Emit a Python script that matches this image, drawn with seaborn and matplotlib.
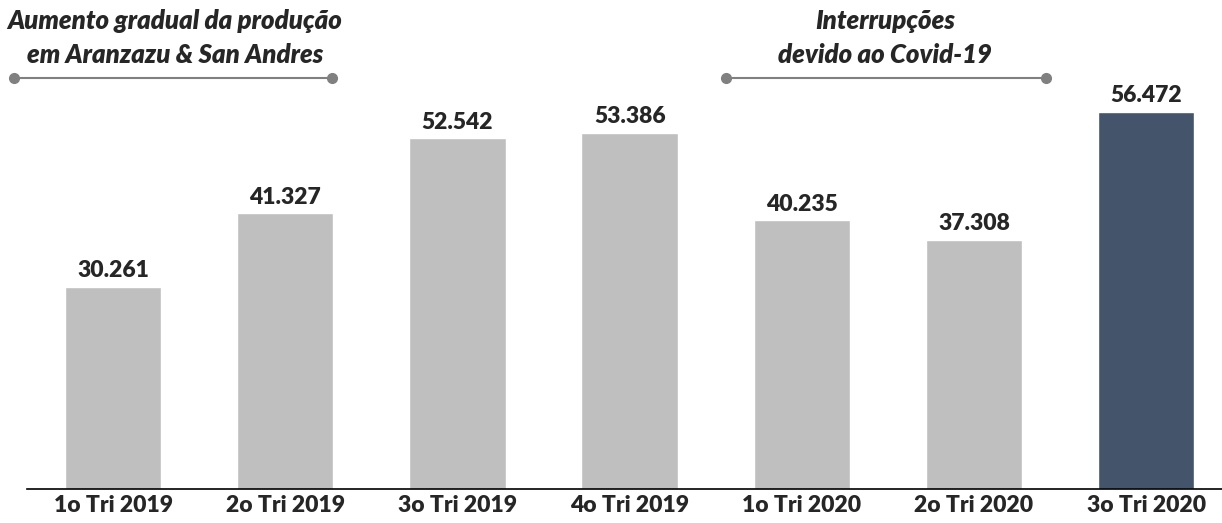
import numpy as np
import pandas as pd
import seaborn as sns
import matplotlib.pyplot as plt

quarters = ["1o Tri 2019", "2o Tri 2019", "3o Tri 2019", "4o Tri 2019",
            "1o Tri 2020", "2o Tri 2020", "3o Tri 2020"]
production = [30.261, 41.327, 52.542, 53.386, 40.235, 37.308, 56.472]
value_labels = ["30.261", "41.327", "52.542", "53.386", "40.235", "37.308", "56.472"]
note_left = "Aumento gradual da produção\nem Aranzazu & San Andres"
note_right = "Interrupções\ndevido ao Covid-19"

sns.set_style("white")
plt.rcParams['font.family'] = ['Lato', 'DejaVu Sans']

df = pd.DataFrame({"quarter": quarters, "value": production})
palette = ["#BFBFBF"] * 6 + ["#44546A"]

fig = plt.figure(figsize=(12.22, 5.23), dpi=100)
ax = fig.add_axes([27 / 1222, 34 / 523, 1 - 27 / 1222, 489 / 523])

sns.barplot(data=df, x="quarter", y="value", hue="quarter", palette=palette,
            legend=False, width=0.56, saturation=1, ax=ax)

for i, (v, lab) in enumerate(zip(production, value_labels)):
    ax.annotate(lab, (i, v), xytext=(0, 4), textcoords="offset points",
                ha="center", va="bottom", fontsize=16.5, fontweight="heavy")

ax.set_xlim(-0.5, 6.44)
ax.set_ylim(0, 73.25)
ax.set_xlabel("")
ax.set_ylabel("")
ax.set_yticks([])
ax.tick_params(axis="x", length=0, pad=4, labelsize=16.5)
for t in ax.get_xticklabels():
    t.set_fontweight("heavy")
sns.despine(ax=ax, left=True, top=True, right=True)
ax.spines["bottom"].set_color("black")
ax.spines["bottom"].set_linewidth(1.2)

# bracket notes above the chart (figure pixel coords)
def note(x0, x1, text, xc):
    y = 1 - 78 / 523
    fig.add_artist(plt.Line2D([x0 / 1222, x1 / 1222], [y, y], color="#808080",
                              lw=1.5, marker="o", markersize=7,
                              transform=fig.transFigure))
    fig.text(xc / 1222, 1 - 38 / 523, text, ha="center", va="center",
             fontsize=18.5, fontweight="heavy", style="italic", linespacing=1.5)

note(14, 332, note_left, 175)
note(726, 1046, note_right, 885)

fig.savefig("out.png", dpi=100)
